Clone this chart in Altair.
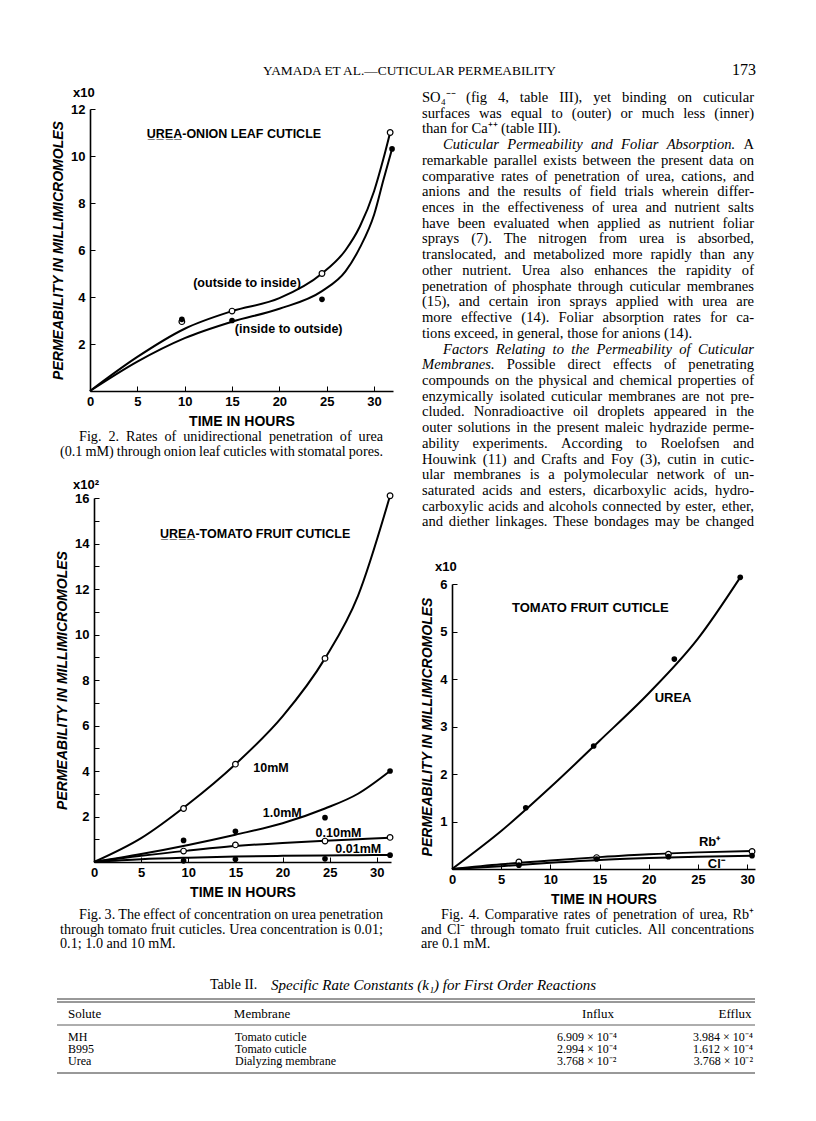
import altair as alt
import pandas as pd

W, H = 800, 1090
M = 8


def px(v):
    return v - M


SANS = "Liberation Sans"
SERIF = "Liberation Serif"

# ---------------- Fig. 2 : urea, onion leaf cuticle ----------------
f2_pt_x = [9.7, 15.0, 24.5, 31.7]
f2_out_pts = [2.95, 3.4, 5.0, 11.0]
f2_in_pt_x = [9.7, 15.0, 24.5, 31.9]
f2_in_pts = [3.05, 3.0, 3.9, 10.3]
f2_out_cx = [0, 5, 10, 15, 20, 24.5, 27, 28.5, 30, 31, 31.7]
f2_out_cy = [0, 1.45, 2.65, 3.4, 3.95, 5.0, 6.0, 7.0, 8.5, 9.9, 11.0]
f2_in_cx = [0, 5, 10, 15, 20, 24.5, 27, 28.5, 30, 31, 31.9]
f2_in_cy = [0, 1.25, 2.25, 2.95, 3.5, 4.25, 5.1, 6.1, 7.5, 9.0, 10.3]
f2_lab_x = [6.0, 10.9, 15.3]
f2_lab_y = [10.95, 4.6, 2.64]
f2_lab_t = ["U\u0332R\u0332E\u0332A\u0332-ONION LEAF CUTICLE", "(outside to inside)", "(inside to outside)"]

# ---------------- Fig. 3 : urea concentration, tomato fruit cuticle ----------------
f3_pt_x = [9.5, 15.0, 24.5, 31.4]
f3_10 = [2.35, 4.3, 8.95, 16.1]
f3_1 = [0.95, 1.35, 1.95, 4.0]
f3_01 = [0.48, 0.75, 0.92, 1.08]
f3_001 = [0.05, 0.12, 0.14, 0.3]
f3_cx = [0, 5, 10, 15, 20, 24.5, 28, 31.4]
f3_10c = [0, 1.05, 2.55, 4.3, 6.4, 8.95, 11.7, 16.1]
f3_1c = [0, 0.35, 0.75, 1.2, 1.7, 2.35, 3.0, 4.0]
f3_01c = [0, 0.27, 0.5, 0.7, 0.84, 0.93, 1.0, 1.07]
f3_001c = [0, 0.12, 0.19, 0.24, 0.27, 0.29, 0.3, 0.31]
f3_lab_x = [7.0, 16.9, 17.9, 23.5, 25.6]
f3_lab_y = [14.4, 4.15, 2.15, 1.27, 0.56]
f3_lab_t = ["U\u0332R\u0332E\u0332A\u0332-TOMATO FRUIT CUTICLE", "10mM", "1.0mM", "0.10mM", "0.01mM"]

# ---------------- Fig. 4 : urea, Rb+, Cl- ----------------
f4_urea_x = [7.5, 14.4, 22.6, 29.3]
f4_urea = [1.29, 2.59, 4.42, 6.14]
f4_ion_x = [6.8, 14.7, 22.0, 30.5]
f4_rb = [0.15, 0.24, 0.31, 0.37]
f4_cl = [0.08, 0.21, 0.26, 0.28]
f4_ucx = [0, 5, 10, 15, 20, 25, 29.3]
f4_ucy = [0, 0.8, 1.72, 2.7, 3.7, 4.85, 6.14]
f4_icx = [0, 5, 10, 15, 20, 25, 30.5]
f4_rbc = [0, 0.1, 0.18, 0.25, 0.31, 0.35, 0.38]
f4_clc = [0, 0.06, 0.13, 0.19, 0.23, 0.26, 0.28]
f4_lab_x = [6.1, 20.6, 25.1, 26.0]
f4_lab_y = [5.49, 3.61, 0.56, 0.1]
f4_lab_t = ["TOMATO FRUIT CUTICLE", "UREA", "Rb\u207a", "Cl\u207b"]

x_ticks = [0, 5, 10, 15, 20, 25, 30]

# ---------------- running text (words between * are italic) ----------------
body_lines = [
    "SO\u2084\u207b\u207b (fig 4, table III), yet binding on cuticular",
    "surfaces was equal to (outer) or much less (inner)",
    "than for Ca\u207a\u207a (table III).",
    "*Cuticular Permeability and Foliar Absorption.* A",
    "remarkable parallel exists between the present data on",
    "comparative rates of penetration of urea, cations, and",
    "anions and the results of field trials wherein differ-",
    "ences in the effectiveness of urea and nutrient salts",
    "have been evaluated when applied as nutrient foliar",
    "sprays (7).  The nitrogen from urea is absorbed,",
    "translocated, and metabolized more rapidly than any",
    "other nutrient.  Urea also enhances the rapidity of",
    "penetration of phosphate through cuticular membranes",
    "(15), and certain iron sprays applied with urea are",
    "more effective (14).  Foliar absorption rates for ca-",
    "tions exceed, in general, those for anions (14).",
    "*Factors Relating to the Permeability of Cuticular*",
    "*Membranes.* Possible direct effects of penetrating",
    "compounds on the physical and chemical properties of",
    "enzymically isolated cuticular membranes are not pre-",
    "cluded.  Nonradioactive oil droplets appeared in the",
    "outer solutions in the present maleic hydrazide perme-",
    "ability experiments.  According to Roelofsen and",
    "Houwink (11) and Crafts and Foy (3), cutin in cutic-",
    "ular membranes is a polymolecular network of un-",
    "saturated acids and esters, dicarboxylic acids, hydro-",
    "carboxylic acids and alcohols connected by ester, ether,",
    "and diether linkages.  These bondages may be changed",
]
body_indent_rows = [3, 16]
body_ragged_rows = [2, 15]

header_title = "YAMADA ET AL.\u2014CUTICULAR PERMEABILITY"
page_no = "173"

cap2 = ["Fig. 2.  Rates of unidirectional penetration of urea",
        "(0.1 mM) through onion leaf cuticles with stomatal pores."]
cap3 = ["Fig. 3.  The effect of concentration on urea penetration",
        "through tomato fruit cuticles.  Urea concentration is 0.01;",
        "0.1; 1.0 and 10 mM."]
cap4 = ["Fig. 4.  Comparative rates of penetration of urea, Rb\u207a",
        "and Cl\u207b through tomato fruit cuticles.  All concentrations",
        "are 0.1 mM."]

# ---------------- table ----------------
tab_title_a = "Table II."
tab_title_b = "Specific Rate Constants (k\u2081) for First Order Reactions"
tab_cols = ["Solute", "Membrane", "Influx", "Efflux"]
tab_solute = ["MH", "B995", "Urea"]
tab_membrane = ["Tomato cuticle", "Tomato cuticle", "Dialyzing membrane"]
tab_influx = ["6.909 \u00d7 10\u207b\u2074", "2.994 \u00d7 10\u207b\u2074", "3.768 \u00d7 10\u207b\u00b2"]
tab_efflux = ["3.984 \u00d7 10\u207b\u2074", "1.612 \u00d7 10\u207b\u2074", "3.768 \u00d7 10\u207b\u00b2"]

# ---------------- Times / Liberation Serif advance widths (per 1000 em) ----------------
_R = dict(zip("abcdefghijklmnopqrstuvwxyz",
              [444, 500, 444, 500, 444, 333, 500, 500, 278, 278, 500, 278, 778,
               500, 500, 500, 500, 333, 389, 278, 500, 500, 722, 500, 500, 444]))
_R.update(dict(zip("ABCDEFGHIJKLMNOPQRSTUVWXYZ",
                   [722, 667, 667, 722, 611, 556, 722, 722, 333, 389, 722, 611, 889,
                    722, 722, 556, 722, 667, 556, 611, 722, 722, 944, 722, 722, 611])))
_R.update({c: 500 for c in "0123456789"})
_R.update({" ": 250, ",": 250, ".": 250, "-": 333, "(": 333, ")": 333, ";": 278, ":": 278,
           "\u2084": 330, "\u207b": 330, "\u207a": 330, "\u2081": 330})
_I = dict(_R)
_I.update(dict(zip("abcdefghijklmnopqrstuvwxyz",
                   [500, 500, 444, 500, 444, 278, 500, 500, 278, 278, 444, 278, 722,
                    500, 500, 500, 500, 389, 389, 278, 500, 444, 667, 444, 444, 389])))
_I.update(dict(zip("ABCDEFGHIJKLMNOPQRSTUVWXYZ",
                   [611, 611, 667, 722, 611, 611, 722, 722, 333, 444, 667, 556, 833,
                    667, 722, 611, 722, 611, 500, 556, 722, 611, 833, 611, 556, 556])))


def word_w(word, italic):
    tab = _I if italic else _R
    return sum(tab.get(c, 500) for c in word) / 1000.0


def parse(line):
    out, ital = [], False
    for w in line.split():
        start = w.startswith("*")
        w2 = w.strip("*")
        if start:
            ital = True
        out.append((w2, ital))
        if w.endswith("*") and len(w) > 1:
            ital = False
    return out


def justify(lines, colw, size, indent_rows=(), ragged_rows=(), indent=0.0, last_ragged=False):
    recs = []
    for r, line in enumerate(lines):
        words = parse(line)
        start = indent if r in indent_rows else 0.0
        widths = [word_w(w, i) * size for w, i in words]
        ragged = r in ragged_rows or (last_ragged and r == len(lines) - 1) or len(words) < 2
        if ragged:
            gap = 0.25 * size
        else:
            gap = (colw - start - sum(widths)) / (len(words) - 1)
        x = start
        for k, ((w, i), wd) in enumerate(zip(words, widths)):
            last = (k == len(words) - 1) and not ragged
            recs.append({"r": r, "w": w, "x": colw if last else x,
                         "st": "i" if i else "n", "al": "right" if last else "left"})
            x += wd + gap
    return pd.DataFrame(recs)


def fit_size(lines, colw, target, indent_rows=(), indent=0.0):
    best = target
    for r, line in enumerate(lines):
        words = parse(line)
        nat = sum(word_w(w, i) for w, i in words) + 0.2 * (len(words) - 1)
        avail = colw - (indent if r in indent_rows else 0.0)
        best = min(best, avail / nat)
    return best


def series_df(xs, ys, name):
    return pd.DataFrame({"x": xs, "y": ys, "s": name})


def figure(curves, opens, filleds, labels, xdom, xr, ydom, yr, ylab, ytick, lab_size):
    xs = alt.Scale(domain=xdom, range=[px(xr[0]), px(xr[1])], nice=False, zero=False)
    ys = alt.Scale(domain=ydom, range=[px(yr[0]), px(yr[1])], nice=False, zero=False)
    main_x = alt.Axis(orient="bottom", offset=px(yr[0]) - H, values=x_ticks, ticks=False,
                      title="TIME IN HOURS", labelFlush=False, labelPadding=4,
                      titlePadding=6, domainColor="black", domainWidth=1.6)
    main_y = alt.Axis(orient="left", offset=-px(xr[0]), values=ylab, ticks=False,
                      title="PERMEABILITY IN MILLIMICROMOLES", labelPadding=5,
                      titlePadding=5, titleFontStyle="italic", titleFontSize=14,
                      domainColor="black", domainWidth=1.6)
    tick_x = alt.Axis(orient="top", offset=-px(yr[0]), values=x_ticks[1:], labels=False,
                      domain=False, ticks=True, tickSize=5, tickColor="black", title=None)
    tick_y = alt.Axis(orient="right", offset=px(xr[0]) - W, values=ytick, labels=False,
                      domain=False, ticks=True, tickSize=5, tickColor="black", title=None)
    lines = alt.Chart(curves).mark_line(interpolate="monotone", color="black", strokeWidth=2).encode(
        x=alt.X("x:Q", scale=xs, axis=main_x),
        y=alt.Y("y:Q", scale=ys, axis=main_y),
        detail="s:N",
    )
    opens_l = alt.Chart(opens).mark_circle(size=32, fill="white", stroke="black",
                                           strokeWidth=1.2, opacity=1).encode(
        x=alt.X("x:Q", scale=xs, axis=tick_x),
        y=alt.Y("y:Q", scale=ys, axis=tick_y),
    )
    filled_l = alt.Chart(filleds).mark_circle(size=32, color="black", opacity=1).encode(
        x=alt.X("x:Q", scale=xs, axis=None), y=alt.Y("y:Q", scale=ys, axis=None))
    labels_l = alt.Chart(labels).mark_text(align="left", baseline="middle", font=SANS,
                                           fontSize=lab_size, fontWeight="bold", color="black").encode(
        x=alt.X("x:Q", scale=xs, axis=None),
        y=alt.Y("y:Q", scale=ys, axis=None),
        text="t:N",
    )
    return alt.layer(lines, opens_l, filled_l, labels_l).resolve_axis(x="independent", y="independent")


def lab_df(xs, ys, ts):
    return pd.DataFrame({"x": xs, "y": ys, "t": ts})


fig2 = figure(
    pd.concat([series_df(f2_out_cx, f2_out_cy, "out"), series_df(f2_in_cx, f2_in_cy, "in")]),
    series_df(f2_pt_x, f2_out_pts, "out"),
    series_df(f2_in_pt_x, f2_in_pts, "in"),
    lab_df(f2_lab_x, f2_lab_y, f2_lab_t),
    [0, 32], [90, 393], [0, 12], [391, 109], [2, 4, 6, 8, 10, 12], [2, 4, 6, 8, 10, 12], 12.5,
)
fig3 = figure(
    pd.concat([series_df(f3_cx, f3_10c, "10"), series_df(f3_cx, f3_1c, "1"),
               series_df(f3_cx, f3_01c, "0.1"), series_df(f3_cx, f3_001c, "0.01")]),
    pd.concat([series_df(f3_pt_x, f3_10, "10"), series_df(f3_pt_x, f3_01, "0.1")]),
    pd.concat([series_df(f3_pt_x, f3_1, "1"), series_df(f3_pt_x, f3_001, "0.01")]),
    lab_df(f3_lab_x, f3_lab_y, f3_lab_t),
    [0, 31.5], [94, 391], [0, 16], [862, 498], [2, 4, 6, 8, 10, 12, 14, 16], list(range(1, 17)), 12.5,
)
fig4 = figure(
    pd.concat([series_df(f4_ucx, f4_ucy, "urea"), series_df(f4_icx, f4_rbc, "rb"),
               series_df(f4_icx, f4_clc, "cl")]),
    series_df(f4_ion_x, f4_rb, "rb"),
    pd.concat([series_df(f4_urea_x, f4_urea, "urea"), series_df(f4_ion_x, f4_cl, "cl")]),
    lab_df(f4_lab_x, f4_lab_y, f4_lab_t),
    [0, 30.8], [452, 755], [0, 6], [869, 584], [1, 2, 3, 4, 5, 6], [1, 2, 3, 4, 5, 6], 13,
)


def note(text, x, y, size=13, font=SANS, weight="bold", style="normal", align="left"):
    return alt.Chart(pd.DataFrame({"t": [text]})).mark_text(
        align=align, baseline="middle", font=font, fontSize=size, fontWeight=weight,
        fontStyle=style, color="black",
    ).encode(x=alt.value(px(x)), y=alt.value(px(y)), text="t:N")


exps = [note("x10", 73, 93), note("x10\u00b2", 73, 485), note("x10", 435, 567)]


def paragraph(lines, left, colw, top, step, size, indent_rows=(), ragged_rows=(), indent=0.0,
              last_ragged=False):
    df = justify(lines, colw, size, indent_rows, ragged_rows, indent, last_ragged)
    xsc = alt.Scale(domain=[0, colw], range=[px(left), px(left + colw)], nice=False, zero=False)
    n = len(lines) - 1
    ysc = alt.Scale(domain=[0, max(n, 1)], range=[px(top), px(top + max(n, 1) * step)],
                    nice=False, zero=False)
    parts = []
    for st, fs in (("n", "normal"), ("i", "italic")):
        for al in ("left", "right"):
            sub = df[(df.st == st) & (df.al == al)]
            if len(sub) == 0:
                continue
            parts.append(alt.Chart(sub).mark_text(
                align=al, baseline="middle", font=SERIF, fontSize=size, fontStyle=fs, color="black"
            ).encode(x=alt.X("x:Q", scale=xsc, axis=None),
                     y=alt.Y("r:Q", scale=ysc, axis=None), text="w:N"))
    return alt.layer(*parts)


BODY_COLW = 332
BODY = fit_size(body_lines, BODY_COLW, 14.6, body_indent_rows, 21)
text_block = paragraph(body_lines, 422, BODY_COLW, 98, 15.72, BODY,
                       body_indent_rows, body_ragged_rows, 21)

CAP_L, CAP_R = 323, 333
CAP = min(fit_size(cap2, CAP_L, 14.2, [0], 19), fit_size(cap3[:2], CAP_L, 14.2, [0], 19),
          fit_size(cap4[:2], CAP_R, 14.2, [0], 20))
caps = [
    paragraph(cap2, 60, CAP_L, 437, 15.2, CAP, [0], (), 19),
    paragraph(cap3, 60, CAP_L, 915, 14.6, CAP, [0], (), 19, last_ragged=True),
    paragraph(cap4, 421, CAP_R, 915, 14.6, CAP, [0], (), 20, last_ragged=True),
]

header = [
    note(header_title, 263, 71, size=13.4, font=SERIF, weight="normal"),
    note(page_no, 756, 70, size=16, font=SERIF, weight="normal", align="right"),
]

# table
trow_scale = alt.Scale(domain=[0, 2], range=[px(1037), px(1061)], nice=False, zero=False)


def tcol(texts, x, align):
    return alt.Chart(pd.DataFrame({"r": [0, 1, 2], "t": texts})).mark_text(
        align=align, baseline="middle", font=SERIF, fontSize=12, color="black"
    ).encode(x=alt.value(px(x)), y=alt.Y("r:Q", scale=trow_scale, axis=None), text="t:N")


def hrule(y, w=1.0):
    return alt.Chart(pd.DataFrame({"k": [0]})).mark_rule(color="#333", strokeWidth=w).encode(
        x=alt.value(px(57)), x2=alt.value(px(755)), y=alt.value(px(y)))


table = alt.layer(
    tcol(tab_solute, 68, "left"),
    tcol(tab_membrane, 235, "left"),
    tcol(tab_influx, 557, "left"),
    tcol(tab_efflux, 753, "right"),
)
table_parts = [
    table,
    note(tab_title_a, 210, 985, size=14, font=SERIF, weight="normal"),
    note(tab_title_b, 271, 985, size=15, font=SERIF, weight="normal", style="italic"),
    note(tab_cols[0], 68, 1014, size=13, font=SERIF, weight="normal"),
    note(tab_cols[1], 262, 1014, size=13, font=SERIF, weight="normal", align="center"),
    note(tab_cols[2], 598, 1014, size=13, font=SERIF, weight="normal", align="center"),
    note(tab_cols[3], 735, 1014, size=13, font=SERIF, weight="normal", align="center"),
    hrule(999), hrule(1002), hrule(1025, 0.8), hrule(1073),
]

chart = alt.layer(
    fig2, fig3, fig4, text_block, *caps, *exps, *header, *table_parts
).resolve_scale(x="independent", y="independent").properties(
    width=W, height=H, padding=0, autosize=alt.AutoSizeParams(type="none")
).configure_view(stroke=None).configure_axis(
    grid=False,
    labelFont=SANS, labelFontSize=13, labelFontWeight="bold", labelColor="black",
    titleFont=SANS, titleFontSize=14, titleFontWeight="bold", titleColor="black",
)

chart.save("out.html", embed_options={"renderer": "svg", "actions": False})
